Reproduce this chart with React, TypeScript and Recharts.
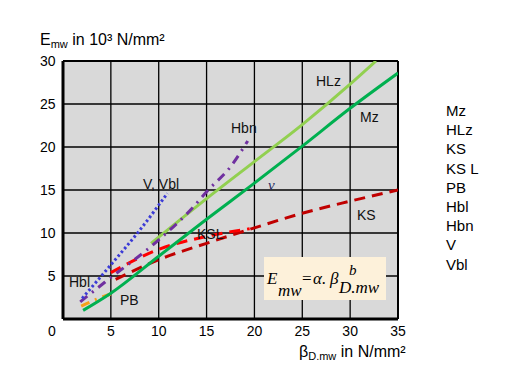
import { CartesianGrid, Line, LineChart, ReferenceLine, XAxis, YAxis } from 'recharts'

// [βD.mw, Emw]
const mzPoints = [
  { x: 2.1, y: 1.0 }, { x: 5, y: 3.0 }, { x: 10, y: 7.3 }, { x: 15, y: 11.6 },
  { x: 20, y: 15.8 }, { x: 25, y: 20.1 }, { x: 30, y: 24.5 }, { x: 35, y: 28.6 },
]
const hlzPoints = [
  { x: 9.2, y: 8.8 }, { x: 15, y: 14 }, { x: 20, y: 18.3 }, { x: 25, y: 22.6 },
  { x: 30, y: 27.3 }, { x: 32.7, y: 30 },
]
const ksPoints = [
  { x: 5.5, y: 4.6 }, { x: 10, y: 6.9 }, { x: 15, y: 8.8 }, { x: 20, y: 10.6 },
  { x: 25, y: 12.3 }, { x: 30, y: 13.7 }, { x: 35, y: 15 },
]
const kslPoints = [
  { x: 5, y: 5.4 }, { x: 10, y: 8.1 }, { x: 15, y: 9.6 }, { x: 19.5, y: 10.5 },
]
const pbPoints = [
  { x: 1.9, y: 1.5 }, { x: 3.5, y: 2.3 }, { x: 5.5, y: 3.1 },
]
const hbnPoints = [
  { x: 1.8, y: 2.0 }, { x: 4.4, y: 4.3 }, { x: 10, y: 9.2 }, { x: 13.6, y: 13 },
  { x: 15, y: 14.8 }, { x: 17.5, y: 17.7 }, { x: 19.3, y: 20.7 },
]
const vPoints = [
  { x: 2, y: 2.4 }, { x: 5, y: 6.3 }, { x: 8, y: 10.3 }, { x: 10.9, y: 14.6 },
]

const xTicks = [0, 5, 10, 15, 20, 25, 30, 35]
const yTicks = [0, 5, 10, 15, 20, 25, 30]
const legendNames = ['Mz', 'HLz', 'KS', 'KS L', 'PB', 'Hbl', 'Hbn', 'V', 'Vbl']

const sans = '"Liberation Sans", Arial, sans-serif'
const serif = '"Liberation Serif", "Times New Roman", serif'

function YTick({ y, payload }: any) {
  if (payload.value === 0) return <g />
  return (
    <text x={55.5} y={y + 5} textAnchor="end" fontSize={14} fontFamily={sans} fill="#000">
      {payload.value}
    </text>
  )
}

function XTick({ x, payload }: any) {
  const dx = payload.value === 0 ? -11 : 0
  return (
    <text x={x + dx} y={335.5} textAnchor="middle" fontSize={14} fontFamily={sans} fill="#000">
      {payload.value}
    </text>
  )
}

function Labels() {
  const lab = { fontSize: 14, fontFamily: sans, fill: '#111' }
  return (
    <svg width={516} height={392} style={{ position: 'absolute', left: 0, top: 0, pointerEvents: 'none' }}>
      <text x={40} y={45} fontFamily={sans} fontSize={16} fill="#000">
        E<tspan fontSize={11} dy={3}>mw</tspan>
        <tspan dy={-3}> in 10³ N/mm²</tspan>
      </text>
      <text x={299} y={357} fontFamily={sans} fontSize={16} fill="#000">
        β<tspan fontSize={11} dy={3}>D.mw</tspan>
        <tspan dy={-3}> in N/mm²</tspan>
      </text>

      <text x={316} y={86} {...lab}>HLz</text>
      <text x={360} y={122} {...lab}>Mz</text>
      <text x={231} y={133} {...lab}>Hbn</text>
      <text x={143} y={189} {...lab}>V, Vbl</text>
      <text x={268} y={190} fontFamily={serif} fontStyle="italic" fontSize={15} fill="#1f2a60">v</text>
      <text x={197} y={239} {...lab}>KSL</text>
      <text x={357} y={220} {...lab}>KS</text>
      <text x={69} y={287} {...lab}>Hbl</text>
      <text x={120} y={305} {...lab}>PB</text>

      <rect x={264} y={257} width={122} height={43} fill="#fdf1da" />
      <text fontFamily={serif} fontSize={17} fontStyle="italic" fill="#000">
        <tspan x={267} y={284}>E</tspan>
        <tspan x={278} y={296}>mw</tspan>
        <tspan x={302} y={284} fontStyle="normal">=</tspan>
        <tspan x={313} y={284}>α.</tspan>
        <tspan x={330} y={284}>β</tspan>
        <tspan x={349} y={275} fontSize={15}>b</tspan>
        <tspan x={339} y={293}>D.mw</tspan>
      </text>

      {legendNames.map((name, i) => (
        <text key={name} x={446} y={116 + i * 19.2} fontFamily={sans} fontSize={15} fill="#000">
          {name}
        </text>
      ))}
    </svg>
  )
}

export default function App() {
  return (
    <div style={{ position: 'absolute', left: 0, top: 0, width: 516, height: 392, background: '#fff' }}>
      <LineChart width={516} height={392} margin={{ top: 61, right: 118, bottom: 43, left: 23 }}>
        <CartesianGrid fill="#d9d9d9" stroke="#000" strokeWidth={1.3} strokeOpacity={1} />
        <XAxis
          type="number"
          dataKey="x"
          domain={[0, 35]}
          ticks={xTicks}
          height={30}
          tickLine={false}
          axisLine={{ stroke: '#000', strokeWidth: 3 }}
          tick={<XTick />}
          allowDataOverflow
        />
        <YAxis
          type="number"
          dataKey="y"
          domain={[0, 30]}
          ticks={yTicks}
          width={40}
          tickLine={false}
          axisLine={{ stroke: '#000', strokeWidth: 3 }}
          tick={<YTick />}
          allowDataOverflow
        />
        <ReferenceLine y={30} stroke="#000" strokeWidth={2} />
        <ReferenceLine x={35} stroke="#000" strokeWidth={2} />

        <Line data={pbPoints} dataKey="y" type="monotone" stroke="#f5a01a" strokeWidth={3} strokeDasharray="9 6 2 6" dot={false} isAnimationActive={false} />
        <Line data={ksPoints} dataKey="y" type="monotone" stroke="#c00000" strokeWidth={3} strokeDasharray="11 7" dot={false} isAnimationActive={false} />
        <Line data={kslPoints} dataKey="y" type="monotone" stroke="#ff0000" strokeWidth={3} strokeDasharray="11 7" dot={false} isAnimationActive={false} />
        <Line data={hlzPoints} dataKey="y" type="monotone" stroke="#92d050" strokeWidth={3} dot={false} isAnimationActive={false} />
        <Line data={mzPoints} dataKey="y" type="monotone" stroke="#00b050" strokeWidth={3} dot={false} isAnimationActive={false} />
        <Line data={hbnPoints} dataKey="y" type="monotone" stroke="#7030a0" strokeWidth={3} strokeDasharray="9 6 2 6" dot={false} isAnimationActive={false} />
        <Line data={vPoints} dataKey="y" type="monotone" stroke="#3b3bd6" strokeWidth={3} strokeDasharray="2.5 2.5" dot={false} isAnimationActive={false} />
      </LineChart>
      <Labels />
    </div>
  )
}
